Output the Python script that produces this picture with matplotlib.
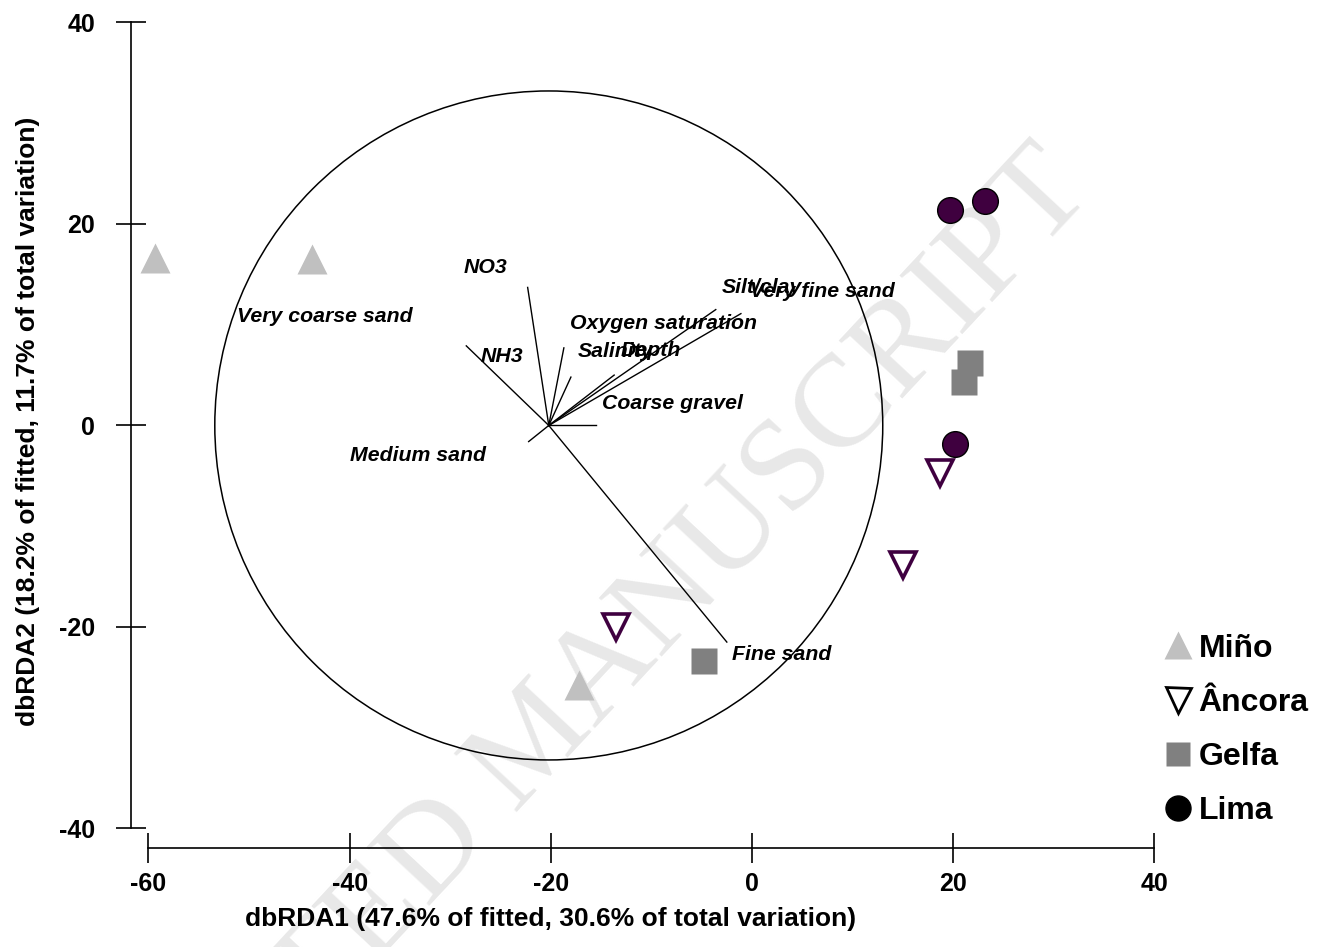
import matplotlib
matplotlib.use('Agg')
import matplotlib.pyplot as plt
from matplotlib.patches import Circle
from matplotlib.lines import Line2D

plt.rcParams['font.family'] = ['Liberation Sans', 'DejaVu Sans']
plt.rcParams['font.weight'] = 'bold'
plt.rcParams['axes.unicode_minus'] = False

# site scores on dbRDA1 / dbRDA2
mino_x = [-59.3, -43.7, -17.2]
mino_y = [16.6, 16.5, -25.8]
ancora_x = [-13.5, 15.0, 18.7]
ancora_y = [-20.0, -13.9, -4.7]
gelfa_x = [-4.8, 21.7, 21.1]
gelfa_y = [-23.4, 6.2, 4.3]
lima_x = [19.7, 23.2, 20.2]
lima_y = [21.4, 22.3, -1.8]

# vector overlay (origin + end points)
vec_origin = (-20.2, 0.0)
vec_radius = 33.2
vec_x = [-22.3, -28.4, -22.2, -2.5, -15.5, -18.7, -18.0, -13.7, -3.6, -1.1]
vec_y = [13.7, 7.9, -1.6, -21.5, 0.0, 7.7, 4.8, 5.0, 11.5, 11.1]

# variable labels and where they sit
var_labels = ['NO3', 'NH3', 'Very coarse sand', 'Medium sand', 'Salinity', 'Depth',
              'Oxygen saturation', 'Silt/clay', 'Very fine sand', 'Coarse gravel',
              'Fine sand']
var_lab_x = [-28.7, -27.0, -51.2, -40.0, -17.3, -13.1, -18.1, -3.0, -0.2, -14.9, -2.0]
var_lab_y = [15.7, 6.8, 10.8, -3.0, 7.3, 7.4, 10.1, 13.7, 13.3, 2.2, -22.7]

xticks = [-60, -40, -20, 0, 20, 40]
yticks = [-40, -20, 0, 20, 40]

W, H = 1327, 947
fig = plt.figure(figsize=(W / 100, H / 100), dpi=100)
ax = fig.add_axes([131 / W, 1 - 848 / H, 1029 / W, 833 / H])
ax.set_xlim(-61.73, 40.56)
ax.set_ylim(-41.94, 40.74)

# watermark
ax.text(0.405, 0.215, 'ACCEPTED MANUSCRIPT', transform=fig.transFigure,
        rotation=47, rotation_mode='anchor', ha='center', va='center',
        fontsize=95, family='Liberation Serif', fontweight='normal',
        color='#e8e8e8', zorder=0)

ax.add_patch(Circle(vec_origin, vec_radius, fill=False, lw=1.1,
                    color='black', zorder=1))
for x, y in zip(vec_x, vec_y):
    ax.plot([vec_origin[0], x], [vec_origin[1], y], color='black', lw=1.0, zorder=1)

for t, x, y in zip(var_labels, var_lab_x, var_lab_y):
    ax.text(x, y, t, fontsize=15.3, style='italic', fontweight='bold',
            ha='left', va='center', zorder=3)

ax.plot(mino_x, mino_y, ls='none', marker='^', ms=21, color='#c0c0c0',
        mec='none', zorder=4, clip_on=False)
ax.plot(ancora_x, ancora_y, ls='none', marker='v', ms=19, mfc='none',
        mec='#3f0040', mew=2.6, zorder=4)
ax.plot(gelfa_x, gelfa_y, ls='none', marker='s', ms=18.5, color='#808080',
        mec='none', zorder=4)
ax.plot(lima_x, lima_y, ls='none', marker='o', ms=18.5, mfc='#3f003f',
        mec='black', mew=1.0, zorder=4)

for s in ['top', 'right']:
    ax.spines[s].set_visible(False)
ax.spines['left'].set_bounds(-40, 40)
ax.spines['bottom'].set_bounds(-60, 40)
for s in ['left', 'bottom']:
    ax.spines[s].set_linewidth(1.2)
ax.set_xticks(xticks)
ax.set_yticks(yticks)
ax.tick_params(direction='inout', length=22, width=1.2, labelsize=18)
ax.tick_params(axis='x', pad=6.5)
ax.tick_params(axis='y', pad=15)

ax.set_xlabel('dbRDA1 (47.6% of fitted, 30.6% of total variation)',
              fontsize=19, fontweight='bold')
ax.xaxis.set_label_coords(0.408, -0.071)
ax.set_ylabel('dbRDA2 (18.2% of fitted, 11.7% of total variation)',
              fontsize=19, fontweight='bold')
ax.yaxis.set_label_coords(-0.088, 0.5126)

handles = [
    Line2D([], [], ls='none', marker='^', ms=20, color='#c0c0c0', mec='none'),
    Line2D([], [], ls='none', marker='v', ms=18, mfc='none', mec='black', mew=2),
    Line2D([], [], ls='none', marker='s', ms=17, color='#808080', mec='none'),
    Line2D([], [], ls='none', marker='o', ms=18, color='black'),
]
fig.legend(handles, ['Miño', 'Âncora', 'Gelfa', 'Lima'], loc='upper left',
           bbox_to_anchor=(0.8768, 0.331), frameon=False,
           prop={'size': 23, 'weight': 'bold'}, handlelength=0.9,
           handletextpad=0.2, labelspacing=0.76, borderpad=0, borderaxespad=0)

fig.savefig('out.png', dpi=100)
